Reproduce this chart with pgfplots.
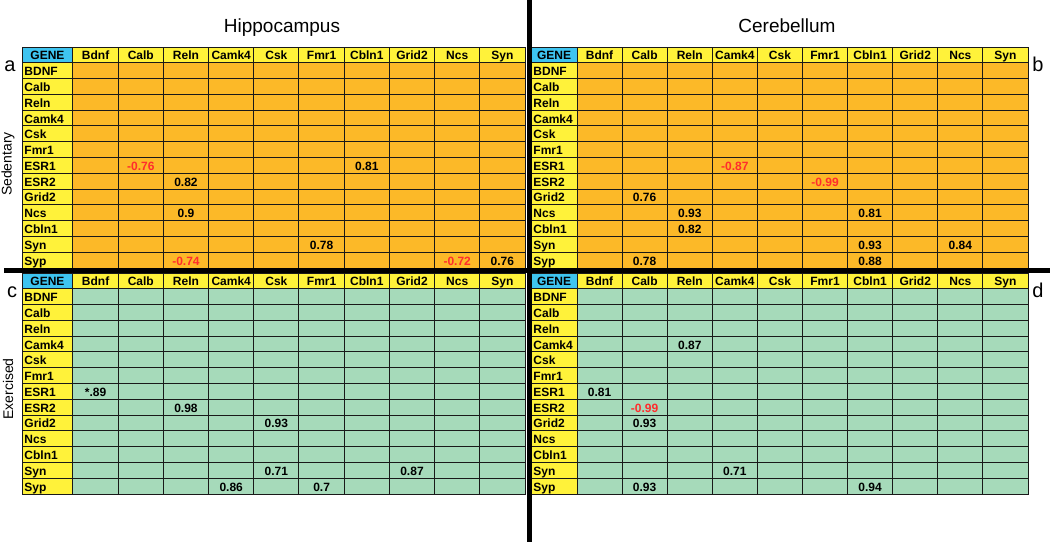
\documentclass[border=0pt]{standalone}
\usepackage{pgfplots}
\usepackage{pgfplotstable}
\pgfplotsset{compat=1.18}
\usepackage{fontspec}
\setmainfont{Liberation Sans}
\definecolor{cOr}{RGB}{252,185,40}
\definecolor{cGr}{RGB}{166,218,186}
\definecolor{cYel}{RGB}{255,242,58}
\definecolor{cBlue}{RGB}{62,196,240}
\definecolor{cRed}{RGB}{255,45,45}

\pgfplotstableread{
x y t
0.5 0.5 Bdnf
1.5 0.5 Calb
2.5 0.5 Reln
3.5 0.5 Camk4
4.5 0.5 Csk
5.5 0.5 Fmr1
6.5 0.5 Cbln1
7.5 0.5 Grid2
8.5 0.5 Ncs
9.5 0.5 Syn
}\colnames
\pgfplotstableread{
y t
1.5 BDNF
2.5 Calb
3.5 Reln
4.5 Camk4
5.5 Csk
6.5 Fmr1
7.5 ESR1
8.5 ESR2
9.5 Grid2
10.5 Ncs
11.5 Cbln1
12.5 Syn
13.5 Syp
}\rownames
\pgfplotstableread{
y t
0.5 GENE
}\genetab
% Hippocampus sedentary
\pgfplotstableread{
x y t
6.5 7.5 0.81
2.5 8.5 0.82
2.5 10.5 0.9
5.5 12.5 0.78
9.5 13.5 0.76
}\aPos
\pgfplotstableread{
x y t
1.5 7.5 -0.76
2.5 13.5 -0.74
8.5 13.5 -0.72
}\aNeg
% Cerebellum sedentary
\pgfplotstableread{
x y t
1.5 9.5 0.76
2.5 10.5 0.93
6.5 10.5 0.81
2.5 11.5 0.82
6.5 12.5 0.93
8.5 12.5 0.84
1.5 13.5 0.78
6.5 13.5 0.88
}\bPos
\pgfplotstableread{
x y t
3.5 7.5 -0.87
5.5 8.5 -0.99
}\bNeg
% Hippocampus exercised
\pgfplotstableread{
x y t
0.5 7.5 *.89
2.5 8.5 0.98
4.5 9.5 0.93
4.5 12.5 0.71
7.5 12.5 0.87
3.5 13.5 0.86
5.5 13.5 0.7
}\cPos
% Cerebellum exercised
\pgfplotstableread{
x y t
2.5 4.5 0.87
0.5 7.5 0.81
1.5 9.5 0.93
3.5 12.5 0.71
1.5 13.5 0.93
6.5 13.5 0.94
}\dPos
\pgfplotstableread{
x y t
1.5 8.5 -0.99
}\dNeg

\pgfplotsset{
  panel/.style={
    scale only axis, anchor=south west,
    y dir=reverse, ymin=0, ymax=14, xmax=10,
    xtick={0,...,9}, ytick={1,...,13}, grid=major,
    major grid style={draw=black!90, line width=1pt},
    xticklabels={}, yticklabels={}, major tick length=0pt,
    axis line style={draw=black!90, line width=1pt},
    axis on top, clip=false,
  },
  txt/.style={draw=none, mark=none, nodes near coords, point meta=explicit symbolic,
    nodes near coords align={center},
    every node near coord/.append style={anchor=base, yshift=-5pt, inner sep=0pt,
      font=\fontsize{12}{12}\selectfont\bfseries, text=black}},
  redtxt/.style={txt, every node near coord/.append style={text=cRed}},
}

\newcommand{\panelcontent}[1]{%
  \addplot[fill=cBlue, draw=none] coordinates {(#1,0) (0,0) (0,1) (#1,1)};
  \addplot[fill=cYel, draw=none] coordinates {(0,0) (10,0) (10,1) (0,1)};
  \addplot[fill=cYel, draw=none] coordinates {(#1,1) (0,1) (0,14) (#1,14)};
  \addplot[txt] table[x=x, y=y, meta=t]{\colnames};
  \addplot[txt, every node near coord/.append style={anchor=base west}] table[x expr=#1+0.05, y=y, meta=t]{\rownames};
  \addplot[txt] table[x expr=#1/2, y=y, meta=t]{\genetab};
}

\begin{document}
\begin{tikzpicture}
\path[use as bounding box] (0,0) rectangle (1050pt,542pt);
% a
\begin{axis}[panel, at={(22pt,274pt)}, width=503pt, height=221pt, xmin=-1.128,
  axis background/.style={fill=cOr}]
  \panelcontent{-1.128}
  \addplot[txt] table[x=x, y=y, meta=t]{\aPos};
  \addplot[redtxt] table[x=x, y=y, meta=t]{\aNeg};
\end{axis}
% b
\begin{axis}[panel, at={(531pt,274pt)}, width=497pt, height=221pt, xmin=-1.02,
  axis background/.style={fill=cOr}]
  \panelcontent{-1.02}
  \addplot[txt] table[x=x, y=y, meta=t]{\bPos};
  \addplot[redtxt] table[x=x, y=y, meta=t]{\bNeg};
\end{axis}
% c
\begin{axis}[panel, at={(22pt,48pt)}, width=503pt, height=221pt, xmin=-1.128,
  axis background/.style={fill=cGr}]
  \panelcontent{-1.128}
  \addplot[txt] table[x=x, y=y, meta=t]{\cPos};
\end{axis}
% d
\begin{axis}[panel, at={(531pt,48pt)}, width=497pt, height=221pt, xmin=-1.02,
  axis background/.style={fill=cGr}]
  \panelcontent{-1.02}
  \addplot[txt] table[x=x, y=y, meta=t]{\dPos};
  \addplot[redtxt] table[x=x, y=y, meta=t]{\dNeg};
\end{axis}
% separators
\fill[black] (527pt,0pt) rectangle (532pt,542pt);
\fill[black] (4pt,269pt) rectangle (1050pt,274pt);
% titles
\node[anchor=base, font=\fontsize{19}{19}\selectfont, inner sep=0pt] at (282pt,509pt) {Hippocampus};
\node[anchor=base, font=\fontsize{19}{19}\selectfont, inner sep=0pt] at (787pt,509pt) {Cerebellum};
% panel letters
\node[anchor=base, font=\fontsize{20}{20}\selectfont, inner sep=0pt] at (10pt,470pt) {a};
\node[anchor=base, font=\fontsize{20}{20}\selectfont, inner sep=0pt] at (1038pt,470pt) {b};
\node[anchor=base, font=\fontsize{20}{20}\selectfont, inner sep=0pt] at (12pt,245pt) {c};
\node[anchor=base, font=\fontsize{20}{20}\selectfont, inner sep=0pt] at (1038pt,245pt) {d};
% row group labels
\node[rotate=90, font=\fontsize{14}{14}\selectfont, inner sep=0pt] at (8pt,378pt) {Sedentary};
\node[rotate=90, font=\fontsize{14}{14}\selectfont, inner sep=0pt] at (8pt,153pt) {Exercised};
\end{tikzpicture}
\end{document}
